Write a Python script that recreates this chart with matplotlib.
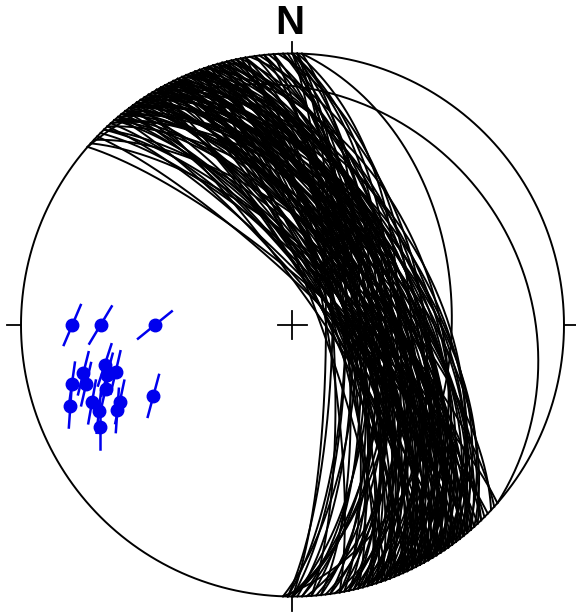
import numpy as np
import matplotlib.pyplot as plt

# fault planes, strike (right-hand rule) / dip in degrees
strikes = [311, 311, 312, 313, 314, 315, 316, 316, 317, 317, 318, 318,
           319, 319, 319, 320, 320, 320, 320, 321, 321, 321, 322, 322, 322, 322,
           323, 323, 323, 324, 324, 324, 324, 325, 325, 325, 325,
           326, 326, 326, 326, 327, 327, 327, 327, 328, 328, 328, 328,
           329, 329, 329, 329, 330, 330, 330, 330, 330, 330,
           331, 331, 331, 331, 332, 332, 332, 332, 333, 333, 333, 333,
           334, 334, 334, 334, 335, 335, 335, 335, 335, 336, 336, 336, 336,
           337, 337, 337, 337, 338, 338, 338, 338, 339, 339, 339, 339,
           340, 340, 340, 340, 340, 341, 341, 341, 342, 342, 342, 342,
           343, 343, 343, 344, 344, 344, 344, 345, 345, 345,
           346, 346, 346, 347, 347, 348, 348, 348, 349, 349, 350, 350, 350,
           351, 352, 352, 353, 354, 354, 355, 356, 356, 357, 358, 358, 359, 360, 360,
           0, 1, 2, 1, 0, 2, 1, 0]
dips = [78, 17, 70, 64, 80, 74, 68, 72, 60, 78, 76, 55,
        72, 58, 66, 80, 66, 52, 74, 74, 62, 56, 70, 56, 78, 64,
        78, 64, 50, 68, 60, 76, 52, 82, 72, 54, 64,
        66, 58, 74, 50, 76, 62, 48, 68, 70, 56, 78, 62,
        80, 64, 52, 58, 74, 68, 58, 46, 80, 62,
        72, 60, 66, 54, 78, 54, 70, 62, 66, 50, 76, 58,
        74, 62, 68, 54, 80, 68, 56, 74, 62, 72, 48, 78, 64,
        64, 58, 70, 52, 76, 52, 66, 58, 70, 60, 76, 54,
        82, 66, 54, 72, 60, 74, 46, 68, 62, 68, 76, 56,
        78, 56, 64, 70, 50, 74, 60, 64, 58, 70,
        76, 52, 64, 68, 58, 60, 72, 66, 56, 74, 80, 64, 70,
        50, 70, 62, 58, 74, 66, 62, 78, 70, 54, 68, 64, 72, 60, 74,
        80, 74, 41, 58, 66, 70, 78, 62]

# poles (trend / plunge) and slip line azimuth drawn through each pole
pole_trend = [270, 270, 270, 257, 258, 255, 255, 254, 251, 250, 249, 246, 246, 244, 243, 242, 255]
pole_plunge = [20, 30, 48, 22, 30, 33, 17, 22, 28, 14, 22, 23, 31, 29, 42, 21, 30]
slip_az = [23, 31, 51, 14, 18, 13, 8, 13, 13, 4, 10, 6, 12, 4, 15, 0, 15]


def project(trend, plunge):
    # lower hemisphere, equal area (Schmidt net)
    t = np.radians(trend)
    p = np.radians(plunge)
    r = np.sqrt(2) * np.sin((np.pi / 2 - p) / 2)
    return r * np.sin(t), r * np.cos(t)


def great_circle(strike, dip, n=181):
    s = np.radians(strike)
    d = np.radians(dip)
    rake = np.radians(np.linspace(0, 180, n))
    sv = np.array([np.cos(s), np.sin(s), 0.0])
    dv = np.array([np.cos(s + np.pi / 2) * np.cos(d), np.sin(s + np.pi / 2) * np.cos(d), np.sin(d)])
    v = np.outer(np.cos(rake), sv) + np.outer(np.sin(rake), dv)
    trend = np.degrees(np.arctan2(v[:, 1], v[:, 0]))
    plunge = np.degrees(np.arcsin(np.clip(v[:, 2], -1, 1)))
    return project(trend, plunge)


fig = plt.figure(figsize=(5.76, 6.12), dpi=100, facecolor='w')
ax = fig.add_axes([0, 0, 1, 1])
ax.set_xlim(-1.0773, 1.0442)
ax.set_ylim(-1.0571, 1.1971)
ax.set_aspect('equal')
ax.axis('off')

for s, d in zip(strikes, dips):
    x, y = great_circle(s, d)
    ax.plot(x, y, color='k', lw=1.4)

# primitive circle
th = np.linspace(0, 2 * np.pi, 721)
ax.plot(np.cos(th), np.sin(th), color='k', lw=1.4)

# N-E-S-W ticks and centre cross
tick = 0.052
ax.plot([0, 0], [1, 1 + 0.043], color='k', lw=1.3)
ax.plot([0, 0], [-1, -1 - tick], color='k', lw=1.3)
ax.plot([1, 1 + tick], [0, 0], color='k', lw=1.3)
ax.plot([-1, -1 - tick], [0, 0], color='k', lw=1.3)
ax.plot([-tick, tick], [0, 0], color='k', lw=1.3)
ax.plot([0, 0], [-tick, tick], color='k', lw=1.3)

ax.text(-0.01, 1.112, 'N', ha='center', va='center', fontsize=29,
        fontweight='bold', family=['Liberation Sans', 'DejaVu Sans'])

# poles with slip lines
half = 0.08
px, py = project(np.array(pole_trend), np.array(pole_plunge))
for x0, y0, a in zip(px, py, slip_az):
    dx = half * np.sin(np.radians(a))
    dy = half * np.cos(np.radians(a))
    ax.plot([x0 - dx, x0 + dx], [y0 - dy, y0 + dy], color='#0000ee', lw=1.8)
ax.plot(px, py, 'o', color='#0000ee', markersize=9, zorder=5)

plt.savefig('out.png', dpi=100)
